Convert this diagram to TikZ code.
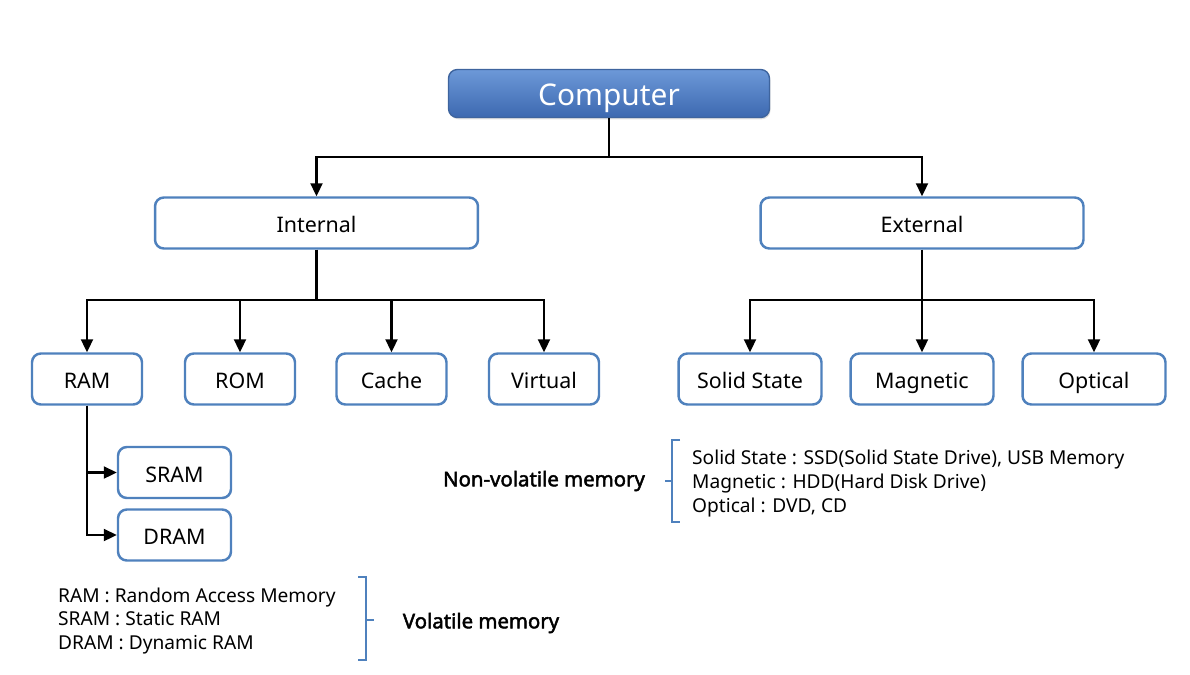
\documentclass[tikz,border=0pt]{standalone}
\usepackage{fontspec}
\setmainfont{Noto Sans}
\newfontfamily\heavyfont{Noto Sans}[FakeBold=2.2]
\usetikzlibrary{arrows.meta,shadows}
\definecolor{boxline}{RGB}{79,129,189}
\definecolor{topblue}{RGB}{108,152,216}
\definecolor{lowblue}{RGB}{60,105,176}
\definecolor{compline}{RGB}{62,100,158}

\begin{document}
\begin{tikzpicture}[x=0.02cm,y=-0.02cm,
    memnode/.style={draw=boxline,line width=1.4pt,rounded corners=5pt,fill=white,
        minimum height=1.02cm,text height=11pt,text depth=0pt,
        font=\fontsize{12.2}{14}\selectfont},
    smallnode/.style={memnode,minimum width=2.2cm},
    widenode/.style={memnode,minimum width=2.86cm},
    topnode/.style={draw=compline,line width=0.8pt,rounded corners=5pt,
        top color=topblue,bottom color=lowblue,text=white,
        text height=13.4pt,text depth=0pt,
        minimum width=6.42cm,minimum height=0.96cm,font=\fontsize{17}{19}\selectfont,
        drop shadow={opacity=0.25,shadow xshift=0.6pt,shadow yshift=-1pt}},
    arr/.style={-{Triangle[length=2.6mm,width=2.4mm]},line width=1.2pt},
    link/.style={line width=1.2pt},
    brace/.style={draw=boxline,line width=0.8pt},
    note/.style={align=left,font=\fontsize{10.9}{13.4}\selectfont},
    tag/.style={font=\heavyfont\fontsize{11.6}{14}\selectfont}]
\useasboundingbox (0,0) rectangle (1190,674);

\node[topnode] (comp) at (609,93.5) {Computer};
\node[memnode,minimum width=6.46cm] (int) at (316.5,223) {Internal};
\node[memnode,minimum width=6.46cm] (ext) at (922,223) {External};

\node[smallnode] (ram) at (87,379) {RAM};
\node[smallnode] (rom) at (240,379) {ROM};
\node[smallnode] (cache) at (391.5,379) {Cache};
\node[smallnode] (virt) at (544,379) {Virtual};

\node[widenode] (ss) at (750,379) {Solid State};
\node[widenode] (mag) at (922,379) {Magnetic};
\node[widenode] (opt) at (1094,379) {Optical};

\node[memnode,minimum width=2.26cm] (sram) at (174.5,472.5) {SRAM};
\node[memnode,minimum width=2.26cm] (dram) at (174.5,535) {DRAM};

\coordinate (c1) at (609,157);
\coordinate (i1) at (316.5,300);
\coordinate (e1) at (922,300);
\draw[link] (comp) -- (c1);
\draw[arr] (c1) -| (int);
\draw[arr] (c1) -| (ext);
\draw[link] (int) -- (i1);
\foreach \n in {ram,rom,cache,virt}
  \draw[arr] (i1) -| (\n);
\draw[link] (ext) -- (e1);
\foreach \n in {ss,mag,opt}
  \draw[arr] (e1) -| (\n);
\draw[arr] (ram.south) |- (sram);
\draw[arr] (ram.south) |- (dram);

% legends
\node[tag] (nvm) at (544,481) {Non-volatile memory};
\node[note,anchor=west] (nvlist) at (686,483.5) {Solid State : SSD(Solid State Drive), USB Memory\\
Magnetic : HDD(Hard Disk Drive)\\Optical : DVD, CD};
\draw[brace] (680,440) -- (672,440) -- (672,522) -- (680,522) (672,481) -- (665,481);

\node[note,anchor=west] (vlist) at (52,621) {RAM : Random Access Memory\\
SRAM : Static RAM\\DRAM : Dynamic RAM};
\node[tag] (vm) at (481,623) {Volatile memory};
\draw[brace] (358,577) -- (366,577) -- (366,660) -- (358,660) (366,620) -- (374,620);
\end{tikzpicture}
\end{document}
